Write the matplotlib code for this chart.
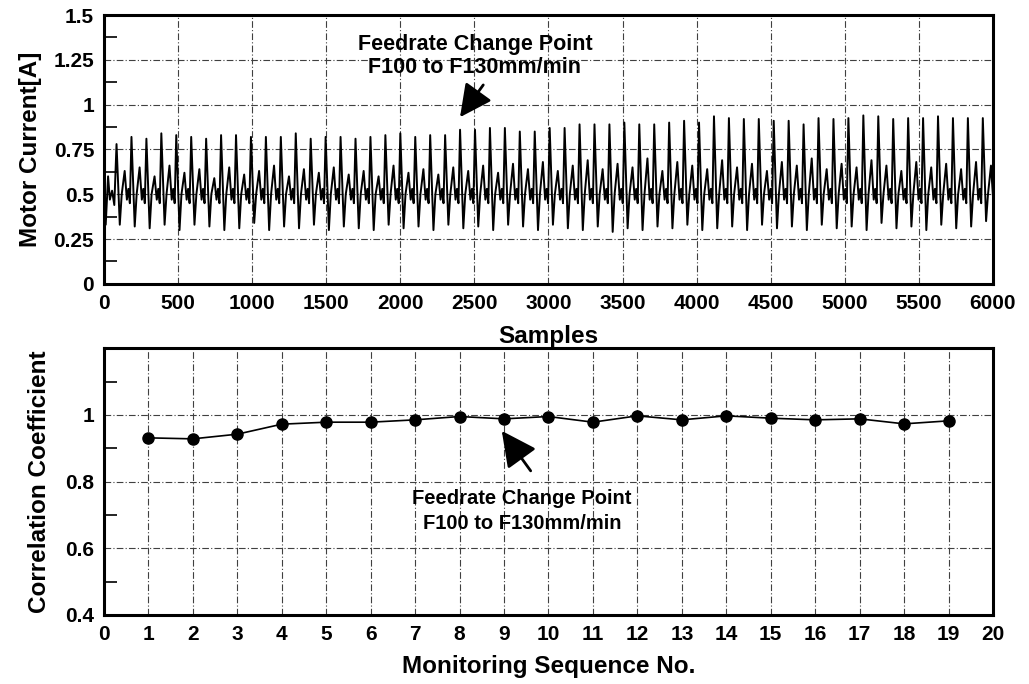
import numpy as np
import matplotlib
matplotlib.use("Agg")
import matplotlib.pyplot as plt
from matplotlib.ticker import MultipleLocator, FixedLocator

plt.rcParams['font.family'] = ['Liberation Sans', 'DejaVu Sans']

# ---- Motor current: per-cycle extremes of the spindle current waveform ----
cycle_peaks = [0.78, 0.82, 0.81, 0.84, 0.83, 0.82, 0.81, 0.83, 0.83, 0.82,
               0.82, 0.82, 0.84, 0.81, 0.82, 0.82, 0.81, 0.82, 0.83, 0.84,
               0.82, 0.83, 0.83, 0.86, 0.86, 0.87, 0.87,
               0.85, 0.85, 0.87, 0.87, 0.89, 0.89, 0.89, 0.90, 0.89, 0.89,
               0.90, 0.91, 0.90, 0.935, 0.925, 0.92, 0.92, 0.91, 0.91, 0.89,
               0.925, 0.92, 0.925, 0.94, 0.935, 0.92, 0.925, 0.925, 0.935,
               0.925, 0.925, 0.925]
cycle_troughs = [0.33, 0.32, 0.31, 0.33, 0.30, 0.33, 0.32, 0.30, 0.31, 0.34,
                 0.30, 0.32, 0.31, 0.33, 0.30, 0.32, 0.31, 0.30, 0.33, 0.31,
                 0.32, 0.30, 0.33, 0.31, 0.32, 0.30, 0.33,
                 0.32, 0.30, 0.33, 0.31, 0.30, 0.32, 0.29, 0.31, 0.30, 0.32,
                 0.31, 0.33, 0.30, 0.31, 0.32, 0.30, 0.33, 0.31, 0.32, 0.30,
                 0.33, 0.31, 0.32, 0.30, 0.34, 0.31, 0.32, 0.30, 0.33, 0.31,
                 0.32, 0.35]
cycle_mids = [0.63, 0.65, 0.60, 0.66, 0.62, 0.64, 0.59, 0.65, 0.61, 0.63,
              0.66, 0.60, 0.64, 0.62, 0.65, 0.61, 0.63, 0.60, 0.66, 0.62,
              0.64, 0.61, 0.65, 0.63, 0.66, 0.62, 0.67,
              0.64, 0.68, 0.63, 0.66, 0.69, 0.64, 0.67, 0.65, 0.70, 0.63,
              0.68, 0.66, 0.64, 0.69, 0.65, 0.67, 0.63, 0.68, 0.66, 0.70,
              0.64, 0.67, 0.65, 0.69, 0.66, 0.63, 0.68, 0.65, 0.67, 0.64,
              0.68, 0.66]
# shape of one machining cycle between tall peaks: (sample offset, level)
lead_in_offsets = [0, 12, 28, 40, 55, 70]
lead_in_values = [0.36, 0.33, 0.60, 0.47, 0.52, 0.44]
shape_offsets = [0, 22, 35, 55, 70, 80, 90]
shape_fill = [0.50, 0.47, 0.53, 0.45]
first_peak = 85
cycle_len = 100.8

# ---- Correlation coefficient per monitoring sequence ----
sequence_no = list(range(1, 20))
correlation = [0.931, 0.928, 0.942, 0.972, 0.978, 0.978, 0.985, 0.995, 0.988,
               0.995, 0.978, 0.997, 0.985, 0.997, 0.990, 0.985, 0.988, 0.973,
               0.982]

annot_text = "Feedrate Change Point\nF100 to F130mm/min"

# build the current trace from the cycle breakpoints
xs = list(lead_in_offsets)
ys = list(lead_in_values)
for k, (p, t, m) in enumerate(zip(cycle_peaks, cycle_troughs, cycle_mids)):
    start = first_peak + k * cycle_len
    vals = [p, t, shape_fill[0], m, shape_fill[1], shape_fill[2], shape_fill[3]]
    for off, v in zip(shape_offsets, vals):
        xs.append(start + off)
        ys.append(v)
xs = np.array(xs)
ys = np.array(ys)

fig = plt.figure(figsize=(10.29, 6.84), dpi=100)
ax1 = fig.add_axes([0.101, 0.585, 0.864, 0.393])
ax2 = fig.add_axes([0.101, 0.101, 0.864, 0.390])

tick_font = dict(fontsize=15, fontweight='bold')
label_font = dict(fontsize=17.5, fontweight='bold')
grid_kw = dict(color='0.25', linestyle=(0, (6, 2, 1, 2)), linewidth=0.8)

for ax in (ax1, ax2):
    for s in ax.spines.values():
        s.set_linewidth(2.2)
    ax.tick_params(axis='both', which='major', length=0, pad=7)
    ax.tick_params(axis='y', which='minor', direction='in', length=9,
                   width=1.2, left=True)

# --- top panel ---
ax1.plot(xs, ys, color='black', linewidth=1.4)
ax1.set_xlim(0, 6000)
ax1.set_ylim(0, 1.5)
ax1.yaxis.set_minor_locator(MultipleLocator(0.125))
ax1.set_yticks([0, 0.25, 0.5, 0.75, 1, 1.25, 1.5])
ax1.set_yticklabels(["0", "0.25", "0.5", "0.75", "1", "1.25", "1.5"],
                    **tick_font)
ax1.set_xticks(range(0, 6001, 500))
ax1.set_xticklabels([str(v) for v in range(0, 6001, 500)], **tick_font)
ax1.grid(True, which='major', **grid_kw)
ax1.set_ylabel("Motor Current[A]", labelpad=8, **label_font)
ax1.set_xlabel("Samples", labelpad=9, **label_font)
ax1.text(2504, 1.27, annot_text, ha='center', va='center', fontsize=15.5,
         fontweight='bold', linespacing=1.1)
ax1.annotate("", xy=(2403, 0.93), xytext=(2560, 1.11),
             arrowprops=dict(arrowstyle='-|>,head_length=0.9,head_width=0.45',
                             color='black', lw=2.0, mutation_scale=22,
                             shrinkA=0, shrinkB=0))

# --- bottom panel ---
ax2.plot(sequence_no, correlation, color='black', linewidth=1.2,
         marker='o', markersize=8)
ax2.set_xlim(0, 20)
ax2.set_ylim(0.4, 1.2)
ax2.set_xticks(range(0, 21))
ax2.set_xticklabels([str(v) for v in range(0, 21)], **tick_font)
ax2.set_yticks([0.4, 0.6, 0.8, 1.0])
ax2.set_yticklabels(["0.4", "0.6", "0.8", "1"], **tick_font)
ax2.yaxis.set_minor_locator(FixedLocator([0.5, 0.7, 0.9, 1.1]))
ax2.grid(True, which='major', **grid_kw)
ax2.set_ylabel("Correlation Coefficient", labelpad=10, **label_font)
ax2.set_xlabel("Monitoring Sequence No.", labelpad=8, **label_font)
ax2.text(9.4, 0.712, annot_text, ha='center', va='center', fontsize=14.5,
         fontweight='bold', linespacing=1.4)
ax2.annotate("", xy=(8.95, 0.952), xytext=(9.6, 0.832),
             arrowprops=dict(arrowstyle='-|>,head_length=0.9,head_width=0.45',
                             color='black', lw=2.0, mutation_scale=24,
                             shrinkA=0, shrinkB=0))

fig.savefig("out.png", dpi=100)
